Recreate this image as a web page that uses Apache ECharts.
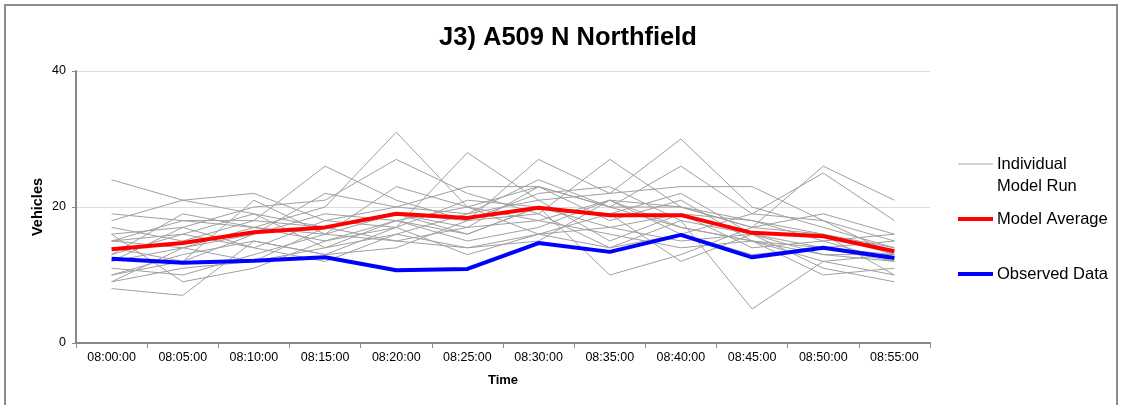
<!DOCTYPE html>
<html>
<head>
<meta charset="utf-8">
<title>J3) A509 N Northfield</title>
<script src="https://cdn.jsdelivr.net/npm/echarts@6/dist/echarts.min.js"></script>
<style>
  html, body { margin: 0; padding: 0; background: #fff; }
  #chart { width: 1123px; height: 405px; }
</style>
</head>
<body>
<div id="chart"></div>
<script>
// Time slots (5-minute intervals)
const times = ['08:00:00','08:05:00','08:10:00','08:15:00','08:20:00','08:25:00',
               '08:30:00','08:35:00','08:40:00','08:45:00','08:50:00','08:55:00'];

// Individual model runs (vehicles per interval)
const run01 = [24,21,19,17,15,14,16,17,15,16,13,13];
const run02 = [19,18,17,20,31,20,18,16,14,15,12,13];
const run03 = [18,21,22,18,17,28,21,15,19,18,15,12];
const run04 = [17,15,18,26,21,18,27,22,30,20,17,14];
const run05 = [16,17,20,21,27,22,19,27,20,17,26,21];
const run06 = [15,16,14,18,20,23,23,20,26,19,25,18];
const run07 = [14,12,16,22,20,19,21,22,23,23,18,13];
const run08 = [13,16,19,14,16,19,24,20,17,15,14,15];
const run09 = [12,14,17,15,18,16,20,10,13,17,19,16];
const run10 = [11,10,13,16,19,18,22,23,18,5,12,10];
const run11 = [10,12,21,16,15,17,18,21,20,18,16,14];
const run12 = [10,13,15,13,17,21,20,19,22,16,11,9];
const run13 = [9,14,16,19,18,15,17,21,16,13,14,12];
const run14 = [9,11,12,17,19,17,23,18,21,15,13,12];
const run15 = [8,7,15,13,14,18,19,14,18,16,16,10];
const run16 = [16,9,11,15,17,13,16,19,12,16,14,13];
const run17 = [13,19,17,16,23,20,16,14,16,19,18,15];
const run18 = [12,17,14,12,16,14,15,21,17,15,10,11];
const run19 = [15,18,18,17,19,16,20,17,19,14,15,16];
const run20 = [15,14,12,14,18,20,23,20,20,17,16,13];

const modelRuns = [run01,run02,run03,run04,run05,run06,run07,run08,run09,run10,
                   run11,run12,run13,run14,run15,run16,run17,run18,run19,run20];

// Averages and observed counts
const modelAverage = [13.8,14.7,16.3,17.0,19.0,18.4,19.9,18.8,18.8,16.2,15.7,13.5];
const observedData = [12.4,11.8,12.1,12.6,10.7,10.9,14.7,13.4,15.9,12.6,14.0,12.5];

// Y axis ticks
const yTicks = [0, 20, 40];

const FONT = '"Liberation Sans", Arial, sans-serif';

const runSeries = modelRuns.map(function (vals) {
  return {
    name: 'Individual Model Run',
    type: 'line',
    data: vals,
    symbol: 'none',
    silent: true,
    lineStyle: { color: '#a0a0a0', width: 1 },
    z: 2
  };
});

const chart = echarts.init(document.getElementById('chart'), null, { renderer: 'canvas' });

// Legend drawn at the right side of the plot
function legendEntry(y, color, width, lines) {
  const children = [{
    type: 'line',
    shape: { x1: 958, y1: y, x2: 993, y2: y },
    style: { stroke: color, lineWidth: width }
  }];
  lines.forEach(function (t, i) {
    children.push({
      type: 'text',
      x: 997, y: y + i * 22.5,
      style: { text: t, font: '16.5px ' + FONT, fill: '#000', textVerticalAlign: 'middle' }
    });
  });
  return children;
}

chart.setOption({
  animation: false,
  backgroundColor: '#fff',
  title: {
    text: 'J3) A509 N Northfield',
    left: 563, top: 20, textAlign: 'center',
    textStyle: { fontFamily: FONT, fontSize: 25.5, fontWeight: 'bold', color: '#000' }
  },
  grid: { left: 76, right: 193, top: 71, bottom: 62 },
  xAxis: {
    type: 'category',
    data: times,
    boundaryGap: true,
    name: 'Time',
    nameLocation: 'middle',
    nameGap: 31,
    nameMoveOverlap: false,
    nameTextStyle: { fontFamily: FONT, fontSize: 13, fontWeight: 'bold', color: '#000' },
    axisLine: { lineStyle: { color: '#888', width: 2 } },
    axisTick: { show: true, length: 5, lineStyle: { color: '#888', width: 1 } },
    axisLabel: { fontFamily: FONT, fontSize: 12.5, color: '#000', margin: 8 },
    splitLine: { show: false }
  },
  yAxis: {
    type: 'value',
    min: yTicks[0], max: yTicks[yTicks.length - 1], interval: 20,
    name: 'Vehicles',
    nameLocation: 'middle',
    nameGap: 31,
    nameMoveOverlap: false,
    nameTextStyle: { fontFamily: FONT, fontSize: 14.5, fontWeight: 'bold', color: '#000' },
    axisLine: { show: true, lineStyle: { color: '#888', width: 2 } },
    axisTick: { show: true, length: 4, lineStyle: { color: '#888', width: 1 } },
    axisLabel: { fontFamily: FONT, fontSize: 12.5, color: '#000', margin: 10 },
    splitLine: { show: true, lineStyle: { color: '#dcdcdc', width: 1 } }
  },
  series: runSeries.concat([
    {
      name: 'Model Average',
      type: 'line',
      data: modelAverage,
      symbol: 'none',
      lineStyle: { color: '#ff0000', width: 4 },
      z: 3
    },
    {
      name: 'Observed Data',
      type: 'line',
      data: observedData,
      symbol: 'none',
      lineStyle: { color: '#0000ff', width: 4 },
      z: 4
    }
  ]),
  graphic: [
    {
      type: 'rect',
      shape: { x: 5, y: 5, width: 1112, height: 420 },
      style: { fill: 'none', stroke: '#8c8c8c', lineWidth: 2 },
      silent: true
    },
    { type: 'group', children: legendEntry(164, '#c8c8c8', 1.5, ['Individual', 'Model Run']) },
    { type: 'group', children: legendEntry(219, '#ff0000', 4, ['Model Average']) },
    { type: 'group', children: legendEntry(274, '#0000ff', 4, ['Observed Data']) }
  ]
});
</script>
</body>
</html>
